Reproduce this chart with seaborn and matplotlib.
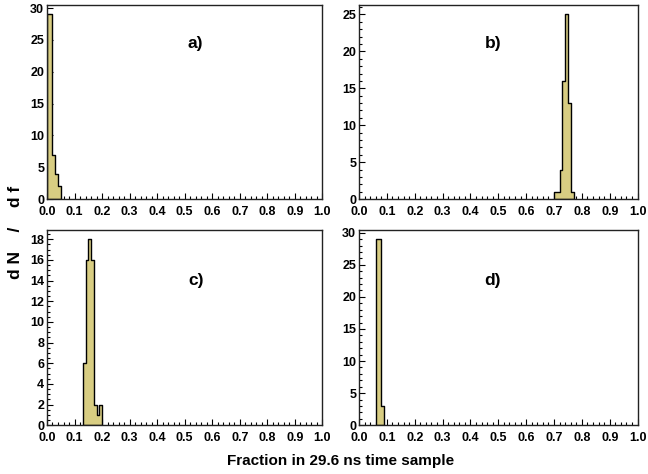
import matplotlib
matplotlib.use('Agg')
import matplotlib.pyplot as plt
from matplotlib.ticker import MultipleLocator
import seaborn as sns
import numpy as np
import pandas as pd

bin_width = 0.01

# lower bin edges and entries in each panel
a_left = [0.00, 0.01, 0.02, 0.03, 0.04]
a_counts = [29, 29, 7, 4, 2]
b_left = [0.70, 0.71, 0.72, 0.73, 0.74, 0.75, 0.76]
b_counts = [1, 1, 4, 16, 25, 13, 1]
c_left = [0.13, 0.14, 0.15, 0.16, 0.17, 0.18, 0.19]
c_counts = [6, 16, 18, 16, 2, 1, 2]
d_left = [0.06, 0.07, 0.08]
d_counts = [29, 29, 3]

panel_names = ['a)', 'b)', 'c)', 'd)']
x_ticks = [0.0, 0.1, 0.2, 0.3, 0.4, 0.5, 0.6, 0.7, 0.8, 0.9, 1.0]
x_label = 'Fraction in 29.6 ns time sample'
y_label = 'd N    /    d f'

sns.set_style('ticks')
plt.rcParams['font.family'] = ['Liberation Sans', 'DejaVu Sans']
plt.rcParams['font.weight'] = 'bold'
plt.rcParams['text.color'] = 'black'
plt.rcParams['xtick.color'] = 'black'
plt.rcParams['ytick.color'] = 'black'

fig = plt.figure(figsize=(6.48, 4.74), dpi=100)
# axes boxes [left, bottom, width, height] in figure fractions
boxes = [[0.0725, 0.580, 0.425, 0.409],
         [0.554, 0.580, 0.430, 0.409],
         [0.0725, 0.103, 0.425, 0.412],
         [0.554, 0.103, 0.430, 0.412]]
label_pos = [(0.54, 0.80), (0.48, 0.80), (0.54, 0.74), (0.48, 0.74)]
y_major = [5, 5, 2, 5]
y_minor = [1, 1, 0.5, 1]

panels = [(a_left, a_counts), (b_left, b_counts), (c_left, c_counts), (d_left, d_counts)]

for i, (left, counts) in enumerate(panels):
    ax = fig.add_axes(boxes[i])
    left = np.array(left)
    edges = list(np.round(np.append(left, left[-1] + bin_width), 3))
    df = pd.DataFrame({'frac': left + bin_width / 2, 'n': counts})
    sns.histplot(data=df, x='frac', weights='n', bins=edges,
                 element='step', fill=True, color='#d8cd82', alpha=1,
                 edgecolor='black', linewidth=1.0, ax=ax)
    ax.set_xlim(0, 1)
    ax.set_ylim(0, max(counts) * 1.05)
    ax.set_xlabel('')
    ax.set_ylabel('')
    ax.set_xticks(x_ticks)
    ax.set_xticklabels(['%.1f' % t for t in x_ticks])
    ax.xaxis.set_minor_locator(MultipleLocator(0.02))
    ax.yaxis.set_major_locator(MultipleLocator(y_major[i]))
    ax.yaxis.set_minor_locator(MultipleLocator(y_minor[i]))
    ax.tick_params(which='both', direction='in', labelsize=9,
                   width=0.8, color='black')
    ax.tick_params(axis='x', pad=5)
    ax.tick_params(axis='y', pad=2)
    ax.tick_params(which='major', length=4.5)
    ax.tick_params(which='minor', length=2.2)
    for sp in ax.spines.values():
        sp.set_linewidth(1.0)
        sp.set_color('#222222')
    for lab in ax.get_xticklabels() + ax.get_yticklabels():
        lab.set_fontweight('bold')
    ax.text(label_pos[i][0], label_pos[i][1], panel_names[i], transform=ax.transAxes,
            ha='center', va='center', fontsize=12.5, fontweight='bold')

fig.text(0.525, 0.028, x_label, ha='center', va='center', fontsize=11, fontweight='bold')
fig.text(0.024, 0.51, y_label, ha='center', va='center', rotation=90,
         fontsize=12.5, fontweight='bold')

fig.savefig('out.png', dpi=100)
